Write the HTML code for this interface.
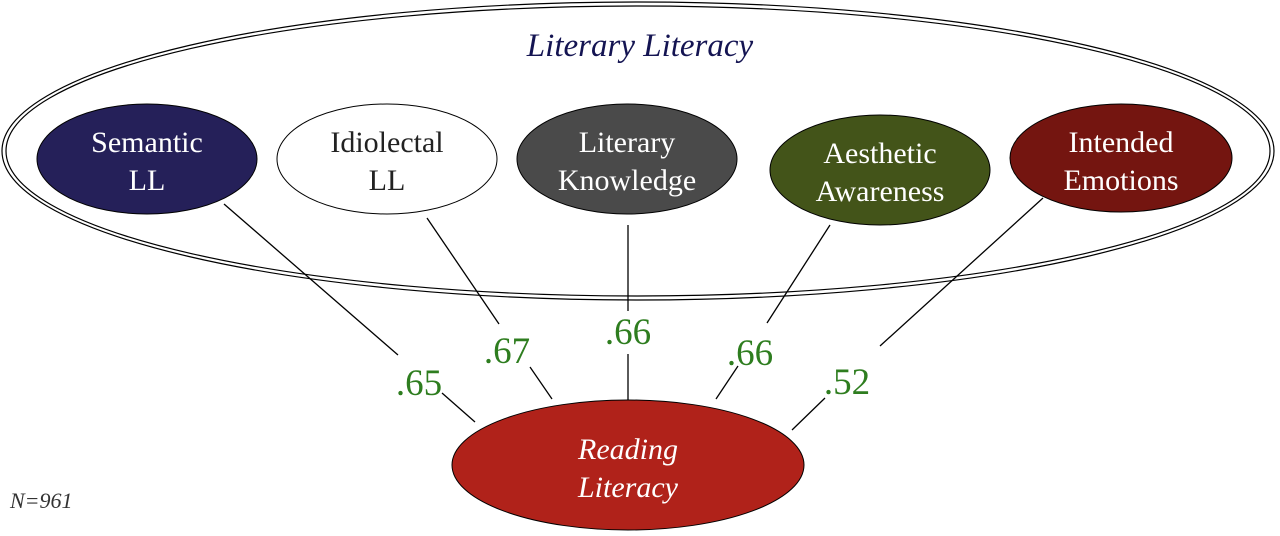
<!DOCTYPE html>
<html><head><meta charset="utf-8"><style>
html,body{margin:0;padding:0;background:#fff;}
svg{display:block;}
</style></head><body>
<svg width="1280" height="536" viewBox="0 0 1280 536" xmlns="http://www.w3.org/2000/svg" font-family="'Liberation Serif', serif">
<ellipse cx="638" cy="151" rx="636" ry="149" fill="none" stroke="#000" stroke-width="1.2"/>
<ellipse cx="638" cy="151" rx="632" ry="145" fill="none" stroke="#000" stroke-width="1.2"/>
<text x="640" y="56" text-anchor="middle" font-size="33" font-style="italic" fill="#141452" font-family="'Liberation Serif', serif">Literary Literacy</text>
<g stroke="#000" stroke-width="1.3">
<line x1="224" y1="204" x2="398" y2="355"/><line x1="442" y1="393" x2="475" y2="422"/>
<line x1="427" y1="218" x2="499" y2="324"/><line x1="530" y1="367" x2="552" y2="399"/>
<line x1="628" y1="225" x2="628" y2="311"/><line x1="628" y1="354" x2="628" y2="400"/>
<line x1="830" y1="225" x2="767" y2="323"/><line x1="738" y1="366" x2="716" y2="399"/>
<line x1="1043" y1="198" x2="880" y2="346"/><line x1="825" y1="398" x2="792" y2="430"/>
</g>
<g stroke="#000" stroke-width="1">
<ellipse cx="147" cy="159" rx="110" ry="55" fill="#252059"/>
<ellipse cx="387" cy="159" rx="110" ry="55" fill="#fff"/>
<ellipse cx="627" cy="159" rx="110" ry="55" fill="#4a4a4a"/>
<ellipse cx="880" cy="170" rx="110" ry="55" fill="#435419"/>
<ellipse cx="1121" cy="158" rx="111" ry="54" fill="#741510"/>
<ellipse cx="628" cy="465" rx="176" ry="65" fill="#b0221a"/>
</g>
<g font-size="30" text-anchor="middle" fill="#fff" font-family="'Liberation Serif', serif">
<text x="147" y="152">Semantic</text><text x="147" y="190">LL</text>
<text x="387" y="152" fill="#222">Idiolectal</text><text x="387" y="190" fill="#222">LL</text>
<text x="627" y="152">Literary</text><text x="627" y="190">Knowledge</text>
<text x="880" y="163">Aesthetic</text><text x="880" y="201">Awareness</text>
<text x="1121" y="152">Intended</text><text x="1121" y="190">Emotions</text>
<text x="628" y="459" font-style="italic">Reading</text><text x="628" y="497" font-style="italic">Literacy</text>
</g>
<g font-size="37" text-anchor="middle" fill="#2e7d1f" font-family="'Liberation Serif', serif">
<text x="419" y="395">.65</text>
<text x="507" y="363">.67</text>
<text x="628" y="344">.66</text>
<text x="750" y="365">.66</text>
<text x="847" y="394">.52</text>
</g>
<text x="10" y="508" font-size="22" font-style="italic" fill="#333" font-family="'Liberation Serif', serif">N=961</text>
</svg>
</body></html>
